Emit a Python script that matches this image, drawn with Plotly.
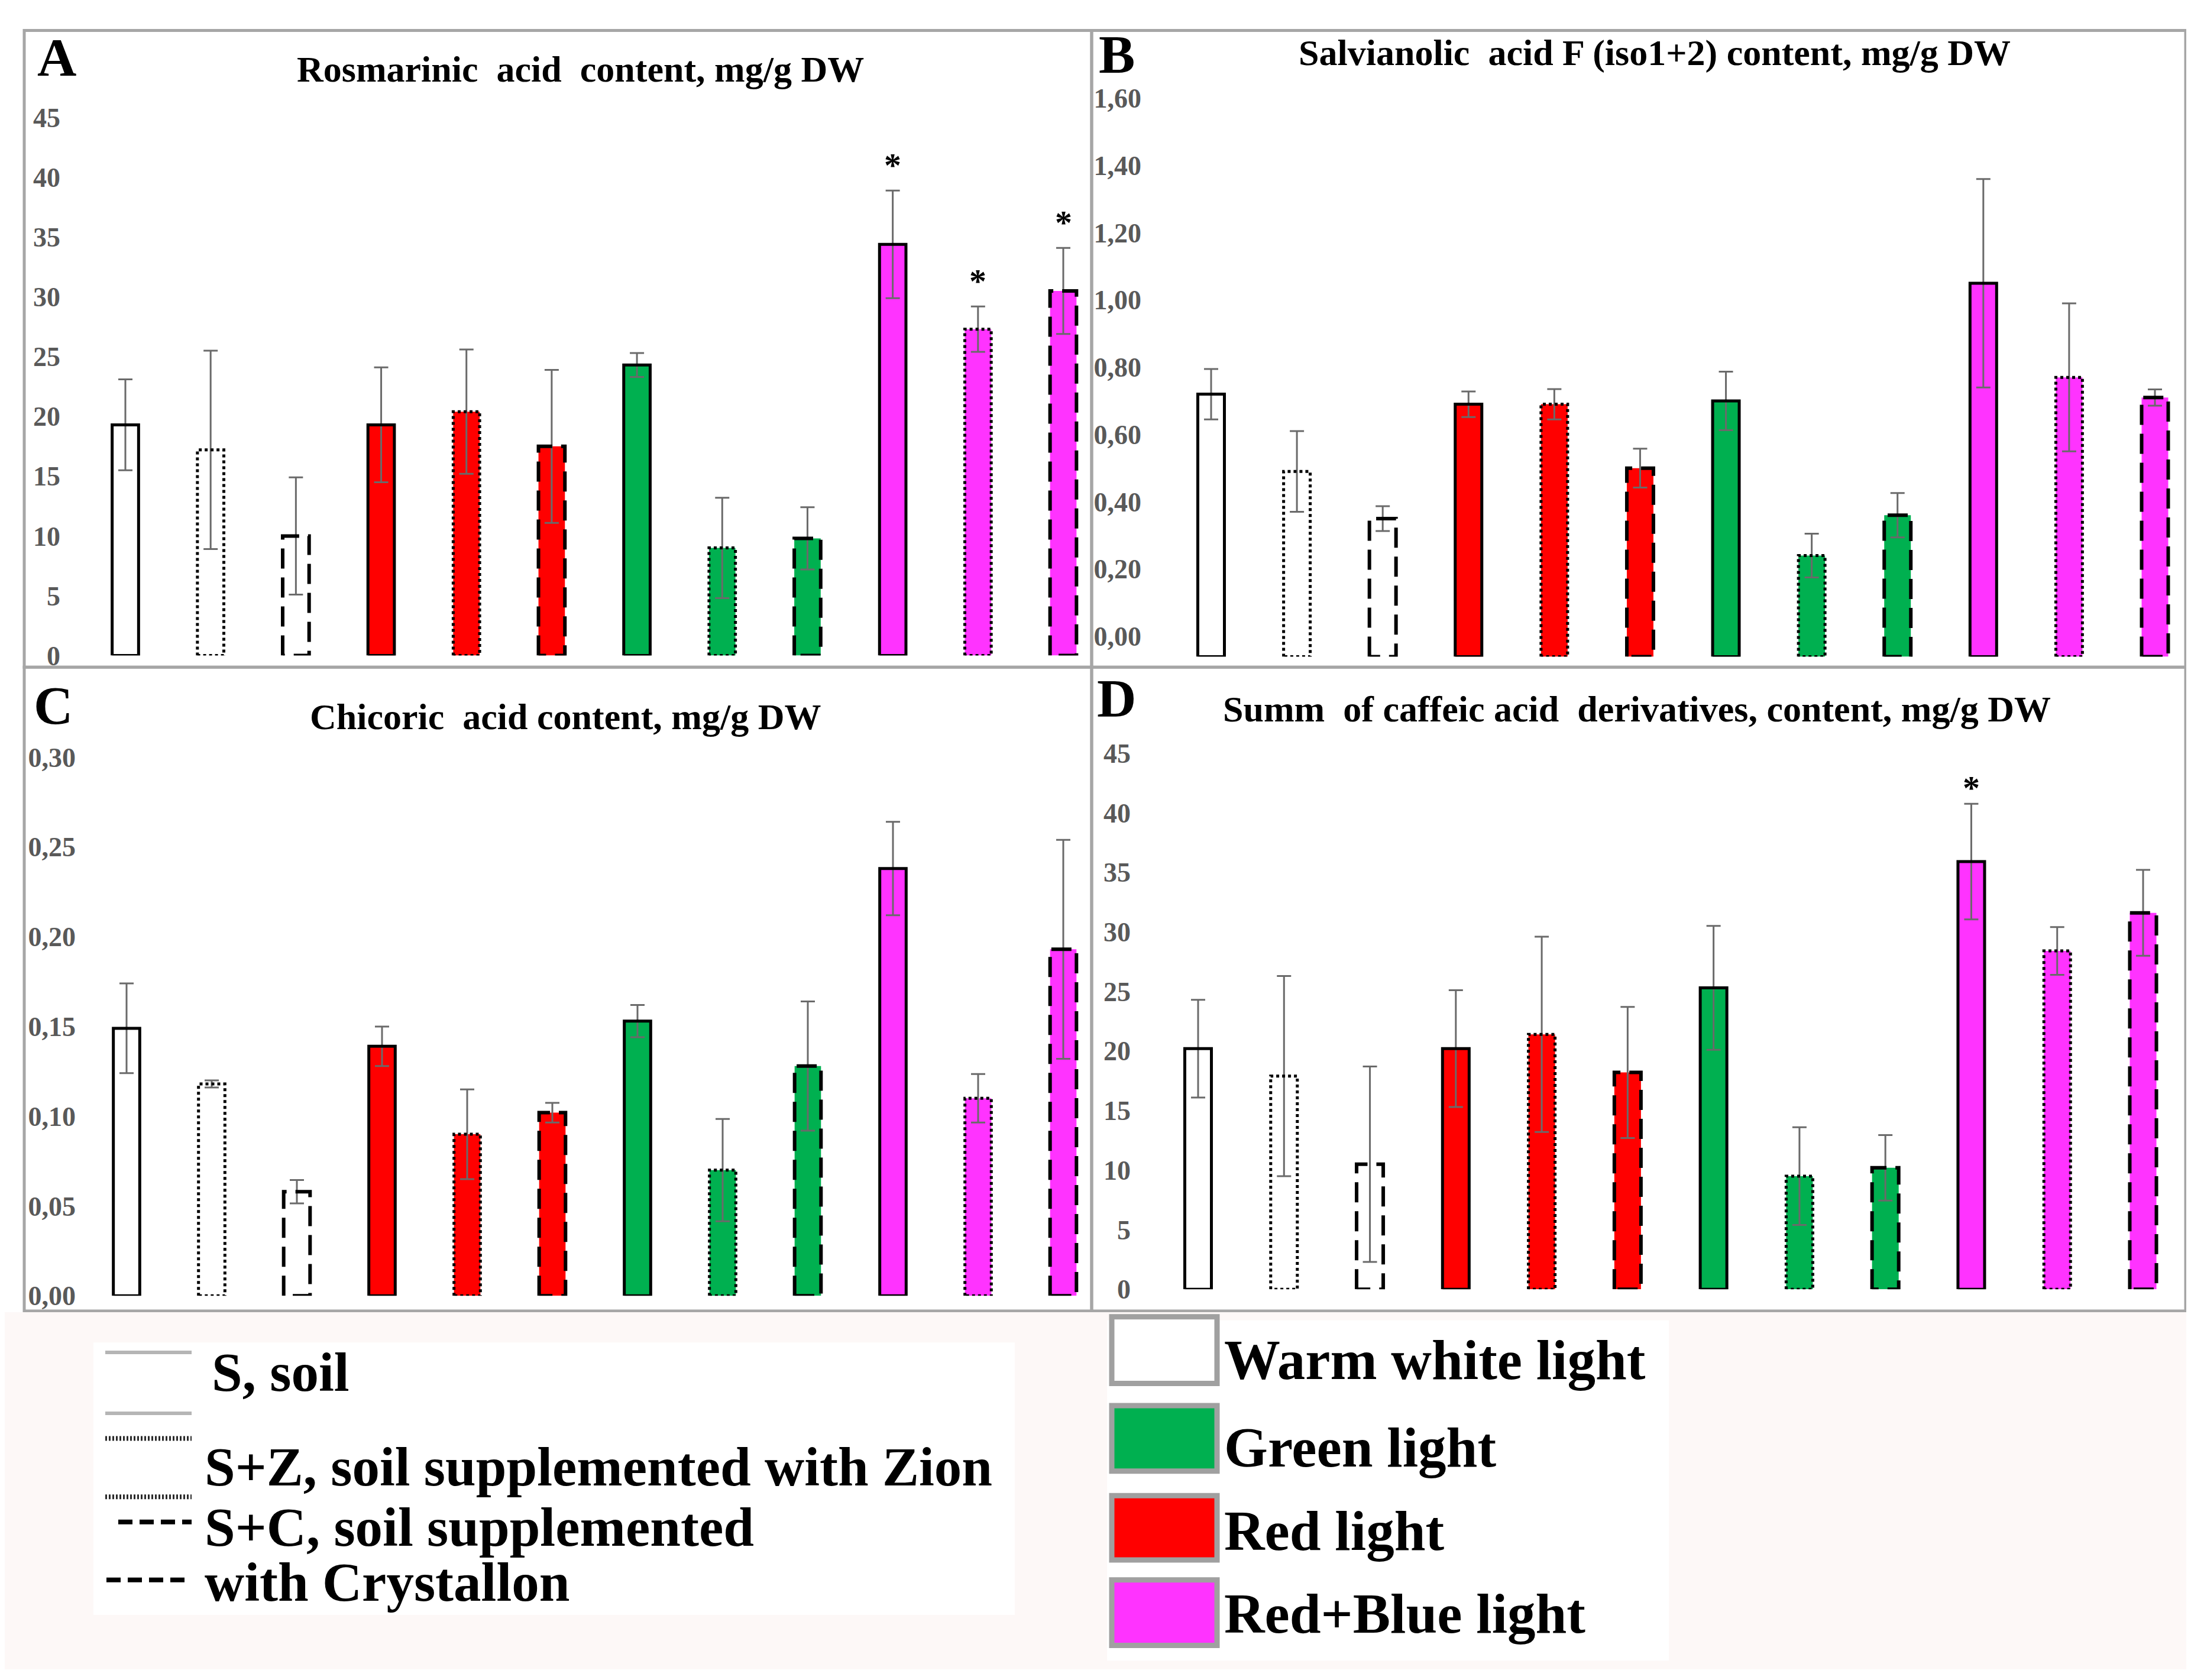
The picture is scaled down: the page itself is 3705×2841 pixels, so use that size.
import plotly.graph_objects as go

W, H = 3705, 2841

# ---------------- data ----------------
lights = ["Warm white light"] * 3 + ["Red light"] * 3 + ["Green light"] * 3 + ["Red+Blue light"] * 3
substrates = ["S", "S+Z", "S+C"] * 4
light_colors = {"Warm white light": "#ffffff", "Red light": "#ff0000",
                "Green light": "#00b050", "Red+Blue light": "#ff33ff"}

rosmarinic = [19.3, 17.2, 10.0, 19.3, 20.4, 17.5, 24.3, 9.0, 9.8, 34.4, 27.3, 30.5]
rosmarinic_err = [3.8, 8.3, 4.9, 4.8, 5.2, 6.4, 1.0, 4.2, 2.6, 4.5, 1.9, 3.6]
rosmarinic_sig = [False] * 9 + [True, True, True]

salvianolic = [0.72, 0.49, 0.35, 0.69, 0.69, 0.50, 0.70, 0.24, 0.36, 1.05, 0.77, 0.71]
salvianolic_err = [0.075, 0.12, 0.037, 0.038, 0.045, 0.058, 0.087, 0.065, 0.066, 0.31, 0.22, 0.024]
salvianolic_sig = [False] * 12

chicoric = [0.149, 0.118, 0.058, 0.139, 0.090, 0.102, 0.153, 0.070, 0.128, 0.238, 0.110, 0.193]
chicoric_err = [0.025, 0.002, 0.0065, 0.011, 0.025, 0.0055, 0.009, 0.0285, 0.036, 0.026, 0.0135, 0.061]
chicoric_sig = [False] * 12

caffeic_sum = [20.2, 17.9, 10.5, 20.2, 21.4, 18.2, 25.3, 9.5, 10.2, 35.9, 28.4, 31.6]
caffeic_sum_err = [4.1, 8.4, 8.2, 4.9, 8.2, 5.5, 5.2, 4.1, 2.75, 4.85, 2.0, 3.6]
caffeic_sum_sig = [False] * 9 + [True, False, False]

ticks_45 = [0, 5, 10, 15, 20, 25, 30, 35, 40, 45]
ticks_45_text = ["0", "5", "10", "15", "20", "25", "30", "35", "40", "45"]
ticks_160 = [0.0, 0.2, 0.4, 0.6, 0.8, 1.0, 1.2, 1.4, 1.6]
ticks_160_text = ["0,00", "0,20", "0,40", "0,60", "0,80", "1,00", "1,20", "1,40", "1,60"]
ticks_030 = [0.0, 0.05, 0.10, 0.15, 0.20, 0.25, 0.30]
ticks_030_text = ["0,00", "0,05", "0,10", "0,15", "0,20", "0,25", "0,30"]

titles = ["Rosmarinic  acid  content, mg/g DW",
          "Salvianolic  acid F (iso1+2) content, mg/g DW",
          "Chicoric  acid content, mg/g DW",
          "Summ  of caffeic acid  derivatives, content, mg/g DW"]
letters = ["A", "B", "C", "D"]

substrate_labels = ["S, soil", "S+Z, soil supplemented with Zion",
                    "S+C, soil supplemented", "with Crystallon"]
light_labels = ["Warm white light", "Green light", "Red light", "Red+Blue light"]

# ---------------- layout geometry (pixels) ----------------
panels = [
    dict(values=rosmarinic, err=rosmarinic_err, sig=rosmarinic_sig, tv=ticks_45, tt=ticks_45_text,
         L=100, R=1834, first=204, last=1790, zero=1107, ref=187, refv=45, bottom=1107, top=165,
         title_xy=(973, 104), letter_xy=(88, 84), star=8),
    dict(values=salvianolic, err=salvianolic_err, sig=salvianolic_sig, tv=ticks_160, tt=ticks_160_text,
         L=1928, R=3684, first=2040, last=3636, zero=1074, ref=154, refv=1.6, bottom=1109, top=135,
         title_xy=(2790, 76), letter_xy=(1880, 79), star=8),
    dict(values=chicoric, err=chicoric_err, sig=chicoric_sig, tv=ticks_030, tt=ticks_030_text,
         L=126, R=1834, first=206, last=1790, zero=2202, ref=1281, refv=0.30, bottom=2202, top=1262,
         title_xy=(948, 1212), letter_xy=(82, 1192), star=8),
    dict(values=caffeic_sum, err=caffeic_sum_err, sig=caffeic_sum_sig, tv=ticks_45, tt=ticks_45_text,
         L=1910, R=3684, first=2018, last=3616, zero=2191, ref=1274, refv=45, bottom=2191, top=1255,
         title_xy=(2760, 1198), letter_xy=(1880, 1180), star=-8),
]

dash_style = {"S": ("solid", 5), "S+Z": ("5px,5px", 5), "S+C": ("34px,15px", 6)}
BAR_W = 0.31
FONT = "Liberation Serif"


def xp(px):
    return px / W


def yp(py):
    return 1 - py / H


fig = go.Figure()
layout_axes = {}
annotations = []
shapes = []

xs = list(range(12))
for k, p in enumerate(panels):
    n = "" if k == 0 else str(k + 1)
    xa, ya = "x" + n, "y" + n
    spacing = (p["last"] - p["first"]) / 11
    x_lo = -(p["first"] - p["L"]) / spacing
    x_hi = 11 + (p["R"] - p["last"]) / spacing
    ppu = (p["zero"] - p["ref"]) / p["refv"]
    y_lo = (p["zero"] - p["bottom"]) / ppu
    y_hi = (p["zero"] - p["top"]) / ppu
    base = y_lo

    layout_axes["xaxis" + n] = dict(domain=[xp(p["L"]), xp(p["R"])], range=[x_lo, x_hi],
                                    anchor=ya, visible=False, fixedrange=True)
    layout_axes["yaxis" + n] = dict(domain=[yp(p["bottom"]), yp(p["top"])], range=[y_lo, y_hi],
                                    anchor=xa, showgrid=False, zeroline=False, showline=False,
                                    ticks="", tickvals=p["tv"], ticktext=p["tt"],
                                    ticklabelstandoff=5,
                                    tickfont=dict(family=FONT, size=46, color="#595959", weight="bold"))

    vals = p["values"]
    fig.add_trace(go.Bar(x=xs, y=[v - base for v in vals], base=base, width=BAR_W,
                         marker=dict(color=[light_colors[l] for l in lights], line=dict(width=0)),
                         xaxis=xa, yaxis=ya, showlegend=False, hoverinfo="skip"))
    fig.add_trace(go.Scatter(x=xs, y=vals, mode="markers",
                             marker=dict(size=1, color="rgba(0,0,0,0)"),
                             error_y=dict(type="data", array=p["err"], color="#6a6a6a",
                                          thickness=3, width=12),
                             xaxis=xa, yaxis=ya, showlegend=False, hoverinfo="skip"))
    for sub, (dash, lw) in dash_style.items():
        ox, oy = [], []
        for i, v in enumerate(vals):
            if substrates[i] != sub:
                continue
            x0, x1 = i - BAR_W / 2, i + BAR_W / 2
            ox += [x0, x0, x1, x1, x0, None]
            oy += [base, v, v, base, base, None]
        fig.add_trace(go.Scatter(x=ox, y=oy, mode="lines", line=dict(color="black", width=lw, dash=dash),
                                 xaxis=xa, yaxis=ya, showlegend=False, hoverinfo="skip"))
    for i, s in enumerate(p["sig"]):
        if s:
            annotations.append(dict(x=i, y=vals[i] + p["err"][i], xref=xa, yref=ya, text="*",
                                    showarrow=False, yanchor="bottom", yshift=p["star"],
                                    font=dict(family=FONT, size=58, color="black", weight="bold")))
    annotations.append(dict(x=xp(p["title_xy"][0]), y=yp(p["title_xy"][1]), xref="paper", yref="paper",
                            text=titles[k], showarrow=False, xanchor="center", yanchor="middle",
                            font=dict(family=FONT, size=62, color="black", weight="bold")))
    annotations.append(dict(x=xp(p["letter_xy"][0]), y=yp(p["letter_xy"][1]), xref="paper", yref="paper",
                            text=letters[k], showarrow=False, xanchor="center", yanchor="middle",
                            font=dict(family=FONT, size=92, color="black", weight="bold")))

# panel frames
for (x0, x1, y0, y1) in [(33, 1838, 38, 1127), (1838, 3688, 38, 1127),
                         (33, 1838, 1127, 2228), (1838, 3688, 1127, 2228)]:
    shapes.append(dict(type="rect", xref="paper", yref="paper", x0=xp(x0), x1=xp(x1), y0=yp(y1), y1=yp(y0),
                       line=dict(color="#a6a6a6", width=5), layer="below"))

# legend area background
shapes.append(dict(type="rect", xref="paper", yref="paper", x0=0, x1=1, y0=0, y1=yp(2230),
                   fillcolor="#fdf8f7", line=dict(width=0), layer="below"))
shapes.append(dict(type="rect", xref="paper", yref="paper", x0=xp(150), x1=xp(1708), y0=yp(2748), y1=yp(2282),
                   fillcolor="white", line=dict(width=0), layer="below"))
shapes.append(dict(type="rect", xref="paper", yref="paper", x0=xp(1864), x1=xp(2814), y0=yp(2826), y1=yp(2244),
                   fillcolor="white", line=dict(width=0), layer="below"))

# substrate legend keys (pairs of lines) and texts
key_lines = [(2299, "#b5b5b5", "solid", 6, 170), (2403, "#b5b5b5", "solid", 6, 170),
             (2446, "#2a2a2a", "3px,3px", 8, 170), (2546, "#2a2a2a", "3px,3px", 8, 170),
             (2589, "black", "24px,12px", 8, 192), (2688, "black", "24px,12px", 8, 172)]
for (py, col, dash, lw, x0) in key_lines:
    shapes.append(dict(type="line", xref="paper", yref="paper", x0=xp(x0), x1=xp(316), y0=yp(py), y1=yp(py),
                       line=dict(color=col, width=lw, dash=dash)))
for label, (px_, py_) in zip(substrate_labels, [(348, 2333), (336, 2495), (336, 2598), (336, 2692)]):
    annotations.append(dict(x=xp(px_), y=yp(py_), xref="paper", yref="paper", text=label, showarrow=False,
                            xanchor="left", yanchor="middle",
                            font=dict(family=FONT, size=93, color="black", weight="bold")))

# light legend swatches and texts
sw = [(2238, 2352), (2390, 2502), (2544, 2654), (2688, 2800)]
for label, (y0, y1), ty in zip(light_labels, sw, [2312, 2462, 2604, 2746]):
    shapes.append(dict(type="rect", xref="paper", yref="paper", x0=xp(1872), x1=xp(2050), y0=yp(y1), y1=yp(y0),
                       fillcolor=light_colors[label], line=dict(color="#a0a0a0", width=9)))
    annotations.append(dict(x=xp(2060), y=yp(ty), xref="paper", yref="paper", text=label, showarrow=False,
                            xanchor="left", yanchor="middle",
                            font=dict(family=FONT, size=95, color="black", weight="bold")))

fig.update_layout(width=W, height=H, margin=dict(l=0, r=0, t=0, b=0),
                  paper_bgcolor="white", plot_bgcolor="rgba(0,0,0,0)",
                  barmode="overlay", annotations=annotations, shapes=shapes, **layout_axes)

fig.write_html("out.html")
